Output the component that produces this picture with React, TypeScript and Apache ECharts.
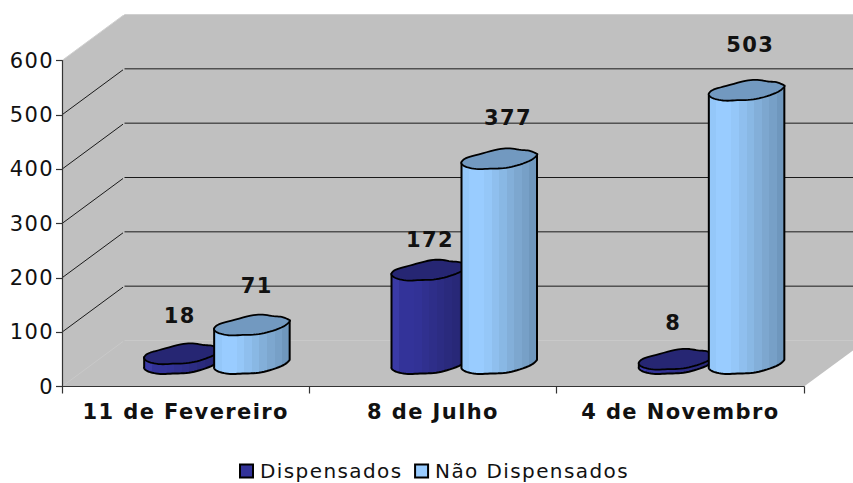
import React, { useEffect, useRef } from "react";
import * as echarts from "echarts";

const categories = ["11 de Fevereiro", "8 de Julho", "4 de Novembro"];
const dispensados = [18, 172, 8];
const naoDispensados = [71, 377, 503];
const yTicks = [0, 100, 200, 300, 400, 500, 600];

const FONT = '"DejaVu Sans", Verdana, sans-serif';
const DEPTH_X = 62.5;
const DEPTH_Y = -46;

// outline of the cylinder cap, relative to its centre (pixels)
const CAP: number[][] = [
  [-37.5, 3.5], [-33, -0.5], [-20, -4.3], [-1, -9.3], [11, -10.3], [22, -8.7], [30, -8], [37, -5.3],
  [38, -3.7], [32, 1.5], [18, 6.8], [4.5, 9.5], [-9, 10], [-21, 10.5], [-31, 8.8], [-36, 6.5],
];
const STEPS = 5;
function denseCap(): number[][] {
  const n = CAP.length;
  const out: number[][] = [];
  for (let i = 0; i < n; i++) {
    const p0 = CAP[(i - 1 + n) % n], p1 = CAP[i], p2 = CAP[(i + 1) % n], p3 = CAP[(i + 2) % n];
    for (let s = 0; s < STEPS; s++) {
      const t = s / STEPS;
      const f = (a: number, b: number, c: number, d: number) =>
        0.5 * (2 * b + (c - a) * t + (2 * a - 5 * b + 4 * c - d) * t * t + (3 * b - a - 3 * c + d) * t * t * t);
      out.push([f(p0[0], p1[0], p2[0], p3[0]), f(p0[1], p1[1], p2[1], p3[1])]);
    }
  }
  return out;
}
const DENSE = denseCap();
const RIGHT_IDX = 8 * STEPS;

function bands(colors: string[]) {
  const stops: { offset: number; color: string }[] = [];
  colors.forEach((c, i) => {
    stops.push({ offset: i / colors.length, color: c });
    stops.push({ offset: (i + 1) / colors.length, color: c });
  });
  return { type: "linear", x: 0, y: 0, x2: 1, y2: 0, colorStops: stops };
}
const darkBands = ["#3a3aa6", "#333399", "#333399", "#323296", "#30308f", "#2e2e89", "#2c2c83", "#2a2a7d", "#282878", "#262673"];
const lightBands = ["#94c7f9", "#99ccff", "#99ccff", "#95c7f8", "#8fbfee", "#89b8e4", "#83afd9", "#7da7cf", "#77a0c7", "#6f97bd"];

function cylinder(opts: {
  dx: number;
  bodyFill: any;
  capFill: string;
  labelNudge: number[][];
}) {
  return (params: any, api: any) => {
    const idx = api.value(0);
    const val = api.value(1);
    const top = api.coord([idx, val]);
    const base = api.coord([idx, 0]);
    const cx = top[0] + opts.dx;
    const ty = top[1] + DEPTH_Y / 2;
    const by = base[1] + DEPTH_Y / 2;
    const lower = DENSE.slice(RIGHT_IDX).concat([DENSE[0]]);
    const bodyPts = lower.map((p) => [cx + p[0], by + p[1]]);
    bodyPts.push([cx + DENSE[0][0], ty + DENSE[0][1]]);
    bodyPts.push([cx + DENSE[RIGHT_IDX][0], ty + DENSE[RIGHT_IDX][1]]);
    const capPts = DENSE.map((p) => [cx + p[0], ty + p[1]]);
    const nudge = opts.labelNudge[params.dataIndex];
    return {
      type: "group",
      children: [
        {
          type: "polygon",
          shape: { points: bodyPts },
          style: { fill: opts.bodyFill, stroke: "#000", lineWidth: 2, lineJoin: "round" },
        },
        {
          type: "polygon",
          shape: { points: capPts },
          style: { fill: opts.capFill, stroke: "#000", lineWidth: 1.8, lineJoin: "round" },
        },
        {
          type: "text",
          x: cx + nudge[0],
          y: ty + nudge[1],
          style: {
            text: String(val),
            font: `bold 21px ${FONT}`,
            fill: "#111",
            align: "center",
            verticalAlign: "middle",
          },
        },
      ],
    };
  };
}

const darkNudges = [[-2, -38], [1, -30], [-3, -36]];
const lightNudges = [[5, -39], [9, -41], [4, -45]];

function App() {
  const ref = useRef<HTMLDivElement>(null);
  useEffect(() => {
    const chart = echarts.init(ref.current!, undefined, { renderer: "svg" });
    chart.setOption({
      animation: false,
      backgroundColor: "#fff",
      textStyle: { fontFamily: FONT },
      grid: { left: 62, top: 60.5, width: 742, height: 326 },
      legend: {
        data: ["Dispensados", "Não Dispensados"],
        left: 234,
        top: 456,
        icon: "rect",
        itemWidth: 13,
        itemHeight: 13,
        itemGap: 27,
        textStyle: { fontSize: 20, color: "#111", fontFamily: FONT, padding: [0, 0, 0, 2] },
      },
      xAxis: {
        type: "category",
        data: categories,
        z: 5,
        axisLine: { lineStyle: { color: "#333", width: 1.2 } },
        axisTick: { show: true, length: 7, lineStyle: { color: "#333", width: 1.2 } },
        axisLabel: { fontSize: 21, fontWeight: "bold", color: "#111", margin: 15, fontFamily: FONT, interval: 0 },
      },
      yAxis: {
        type: "value",
        min: 0,
        max: 600,
        interval: 100,
        z: 5,
        axisLine: { show: true, lineStyle: { color: "#333", width: 1.2 } },
        axisTick: { show: true, length: 6, lineStyle: { color: "#333", width: 1.2 } },
        axisLabel: { fontSize: 21, color: "#111", margin: 8, fontFamily: FONT },
        splitLine: { show: false },
      },
      series: [
        {
          type: "custom",
          name: "wall",
          silent: true,
          z: 1,
          clip: false,
          data: yTicks.map((v) => [0, v]),
          encode: { x: 0, y: 1 },
          renderItem: (params: any, api: any) => {
            const v = api.value(1);
            const sys = params.coordSys;
            const y = api.coord([0, v])[1];
            const x0 = sys.x;
            const x1 = sys.x + sys.width;
            const top = sys.y;
            const bottom = sys.y + sys.height;
            const children: any[] = [];
            if (params.dataIndex === 0) {
              children.push({
                type: "polygon",
                shape: {
                  points: [
                    [x0, top],
                    [x0 + DEPTH_X, top + DEPTH_Y],
                    [x1 + DEPTH_X, top + DEPTH_Y],
                    [x1 + DEPTH_X, bottom + DEPTH_Y],
                    [x1, bottom],
                    [x0, bottom],
                  ],
                },
                style: { fill: "#c0c0c0", stroke: "none" },
              });
            }
            const color = v === 0 ? "#c9c9c9" : v === 600 ? "#d0d0d0" : "#1a1a1a";
            children.push({
              type: "line",
              shape: { x1: x0, y1: y, x2: x0 + DEPTH_X - 1.5, y2: y + DEPTH_Y + 1 },
              style: { stroke: color, lineWidth: 1 },
            });
            children.push({
              type: "line",
              shape: { x1: x0 + DEPTH_X, y1: y + DEPTH_Y, x2: x1 + DEPTH_X, y2: y + DEPTH_Y },
              style: { stroke: color, lineWidth: 1 },
            });
            return { type: "group", children };
          },
        },
        {
          type: "custom",
          name: "Dispensados",
          z: 2,
          clip: false,
          itemStyle: { color: "#333399", borderColor: "#000", borderWidth: 1.5 },
          data: dispensados.map((v, i) => [i, v]),
          encode: { x: 0, y: 1 },
          renderItem: cylinder({
            dx: -4,
            bodyFill: bands(darkBands),
            capFill: "#262673",
            labelNudge: darkNudges,
          }),
        },
        {
          type: "custom",
          name: "Não Dispensados",
          z: 3,
          clip: false,
          itemStyle: { color: "#99ccff", borderColor: "#000", borderWidth: 1.5 },
          data: naoDispensados.map((v, i) => [i, v]),
          encode: { x: 0, y: 1 },
          renderItem: cylinder({
            dx: 66,
            bodyFill: bands(lightBands),
            capFill: "#7299c0",
            labelNudge: lightNudges,
          }),
        },
      ],
    });
    return () => chart.dispose();
  }, []);
  return (
    <div
      ref={ref}
      style={{
        position: "fixed",
        left: 0,
        top: 0,
        width: 853,
        height: 483,
        overflow: "hidden",
        letterSpacing: "1.4px",
      }}
    />
  );
}

export default App;
